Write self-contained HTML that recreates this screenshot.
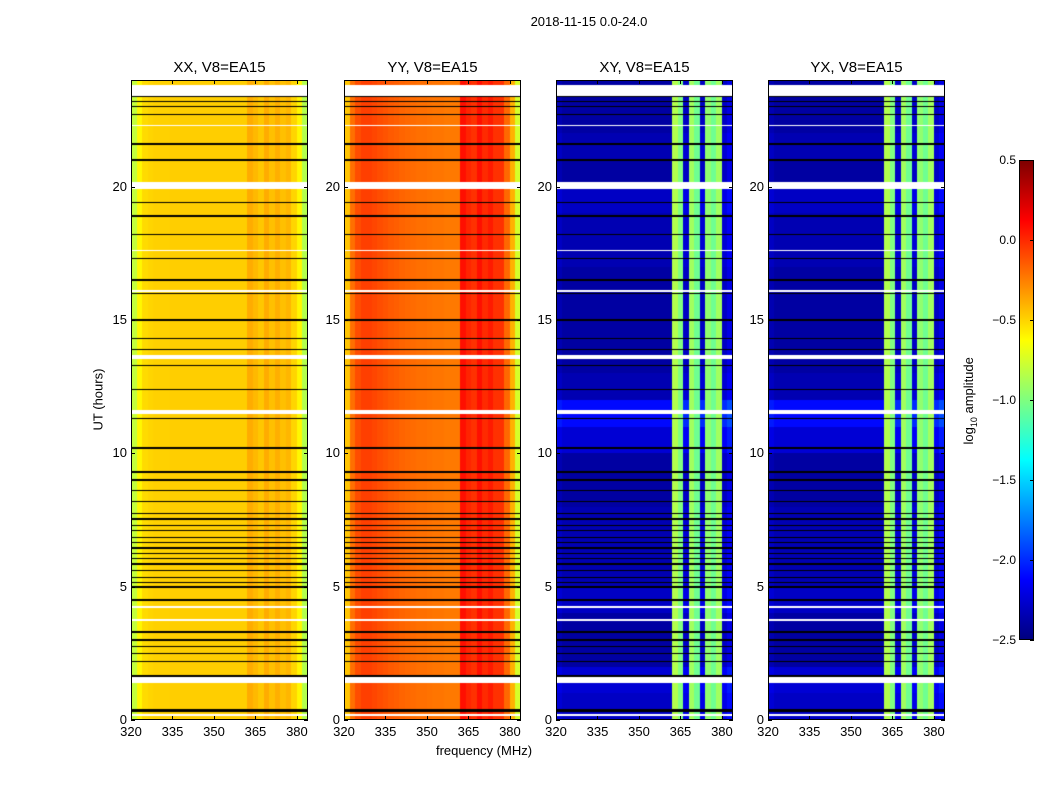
<!DOCTYPE html>
<html><head><meta charset="utf-8">
<style>
body{margin:0;background:#fff;width:1050px;height:800px;position:relative;overflow:hidden;font-family:"Liberation Sans",sans-serif;color:#000}
.t{position:absolute;white-space:nowrap}
canvas{position:absolute}
</style></head>
<body>
<div class="t" style="left:489px;top:14px;width:200px;text-align:center;font-size:13px">2018-11-15 0.0-24.0</div>
<div class="t" style="left:48px;top:392px;width:100px;text-align:center;font-size:13px;transform:rotate(-90deg)">UT (hours)</div>
<div class="t" style="left:384px;top:743px;width:200px;text-align:center;font-size:13px">frequency (MHz)</div>
<div class="t" style="left:920px;top:392px;width:100px;text-align:center;font-size:13px;transform:rotate(-90deg)">log<sub style="font-size:9px">10</sub> amplitude</div>
<div id="cbar" style="position:absolute;left:1019px;top:160px;width:15px;height:480px;border:1px solid #000;box-sizing:border-box;background:linear-gradient(to top,#00007f 0%,#0000ff 12.5%,#00ffff 37.5%,#7fff7f 50%,#ffff00 62.5%,#ff0000 87.5%,#7f0000 100%)"></div>
<div id="root"></div>
<script>
// ---- data ----
const panelTitles = ["XX, V8=EA15","YY, V8=EA15","XY, V8=EA15","YX, V8=EA15"];
const xTicks = [320,335,350,365,380];
const yTicks = [0,5,10,15,20];
const cbTicks = [0.5,0.0,-0.5,-1.0,-1.5,-2.0,-2.5];
// channel spectra (log10 amp), 2 MHz channels from 320 to 384 MHz
const specXX = [-0.8,-0.6,-0.52,-0.5,-0.49,-0.49,-0.49,-0.48,-0.48,-0.48,-0.48,-0.48,-0.48,-0.48,-0.48,-0.48,-0.48,-0.48,-0.48,-0.48,-0.48,-0.38,-0.42,-0.46,-0.38,-0.44,-0.39,-0.44,-0.41,-0.5,-0.6,-0.85];
const specYY = [-0.45,-0.2,-0.1,-0.06,-0.06,-0.08,-0.1,-0.12,-0.14,-0.15,-0.17,-0.18,-0.19,-0.2,-0.2,-0.21,-0.22,-0.22,-0.23,-0.23,-0.23,0.08,0.02,-0.02,0.08,0.0,0.05,-0.02,-0.02,-0.18,-0.4,-0.75];
const specXY = [-2.35,-2.4,-2.4,-2.4,-2.4,-2.4,-2.4,-2.4,-2.4,-2.4,-2.4,-2.4,-2.4,-2.4,-2.4,-2.4,-2.4,-2.4,-2.4,-2.4,-2.4,-0.85,-1.0,-2.3,-0.9,-1.05,-2.3,-0.95,-1.05,-0.9,-2.3,-2.2];
const specYX = [-2.35,-2.4,-2.4,-2.4,-2.4,-2.4,-2.4,-2.4,-2.4,-2.4,-2.4,-2.4,-2.4,-2.4,-2.4,-2.4,-2.4,-2.4,-2.4,-2.4,-2.4,-0.85,-1.0,-2.3,-0.9,-1.05,-2.3,-0.95,-1.05,-0.9,-2.3,-2.2];
// hourly offsets applied to cross-pol backgrounds
const crossHourOffset = [0.1,0.15,0.0,0.0,0.1,0.05,0.05,0.05,0.0,0.0,0.15,0.3,0.05,0.0,0.0,0.0,0.0,0.05,0.05,0.1,0.0,0.05,0.0,0.0];
// flagged (black) rows: hour, width in hours
const blackRows = [[0.35,0.12],[1.65,0.1],[2.2,0.05],[2.5,0.05],[2.75,0.05],[3.0,0.05],[3.3,0.05],[4.5,0.05],[5.0,0.07],[5.15,0.05],[5.35,0.05],[5.6,0.05],[5.85,0.05],[6.05,0.05],[6.25,0.05],[6.45,0.05],[6.65,0.05],[6.85,0.05],[7.1,0.05],[7.3,0.05],[7.55,0.08],[7.75,0.05],[8.2,0.05],[8.6,0.05],[9.0,0.05],[9.3,0.05],[10.2,0.05],[11.3,0.05],[12.4,0.05],[13.3,0.05],[13.9,0.05],[14.3,0.05],[15.0,0.05],[16.0,0.05],[16.5,0.05],[17.3,0.05],[18.2,0.05],[18.9,0.08],[19.4,0.05],[21.0,0.05],[21.6,0.05],[22.7,0.05],[23.0,0.05],[23.2,0.05],[23.4,0.05]];
// missing (white) rows: hour, width in hours
const whiteRows = [[0.2,0.08],[1.5,0.2],[3.75,0.05],[4.25,0.08],[11.55,0.12],[13.6,0.15],[16.1,0.08],[17.6,0.05],[20.05,0.25],[22.3,0.05],[23.6,0.4]];
// ---- layout ----
const panelX=[131,344,556,768], PW=177, PT=80, PH=640;
const fMin=320,fMax=384;
const xs=f=>(f-fMin)/(fMax-fMin)*PW;
const ys=h=>PH-h/24*PH;
const cbY=v=>160+(0.5-v)/3*480;
const specs=[specXX,specYY,specXY,specYX];
const root=document.getElementById('root');
function jet(v){let t=(v+2.5)/3;t=Math.max(0,Math.min(1,t));const c=x=>Math.round(255*Math.max(0,Math.min(1,1.5-Math.abs(x))));return [c(4*t-3),c(4*t-2),c(4*t-1)];}
function inRows(rows,h){for(const r of rows){if(Math.abs(h-r[0])<=r[1]/2)return true;}return false;}
panelTitles.forEach((title,p)=>{
  const cv=document.createElement('canvas');
  
  
  cv.width=PW;cv.height=PH;cv.style.left=panelX[p]+'px';cv.style.top=PT+'px';
  root.appendChild(cv);
  const ctx=cv.getContext('2d');const img=ctx.createImageData(PW,PH);
  const spec=specs[p];const cross=p>=2;
  for(let y=0;y<PH;y++){
    const h=24*(1-(y+0.5)/PH);
    const black=inRows(blackRows,h), white=inRows(whiteRows,h);
    const hi=Math.min(23,Math.floor(h));
    for(let x=0;x<PW;x++){
      const f=fMin+(x+0.5)/PW*(fMax-fMin);
      const ch=Math.min(spec.length-1,Math.floor((f-fMin)/2));
      let v=spec[ch];
      if(cross&&v<-2.0)v+=crossHourOffset[hi];
      let c=jet(v);
      if(black)c=[0,0,0];
      if(white)c=[255,255,255];
      const i=(y*PW+x)*4;img.data[i]=c[0];img.data[i+1]=c[1];img.data[i+2]=c[2];img.data[i+3]=255;
    }
  }
  ctx.putImageData(img,0,0);
  const fr=document.createElement('div');
  
  
  fr.style.cssText=`position:absolute;left:${panelX[p]}px;top:${PT}px;width:${PW}px;height:${PH}px;border:1px solid #000;box-sizing:border-box`;
  root.appendChild(fr);
  const tt=document.createElement('div');tt.className='t';
  
  
  tt.style.cssText=`left:${panelX[p]}px;top:59px;width:${PW}px;text-align:center;font-size:15px`;
  tt.textContent=title;root.appendChild(tt);
  xTicks.forEach(f=>{
    const x=panelX[p]+xs(f);
    for(const top of [PT,PT+PH-4]){const tk=document.createElement('div');
      
      
      tk.style.cssText=`position:absolute;left:${x}px;top:${top}px;width:1px;height:4px;background:#000`;root.appendChild(tk);}
    const l=document.createElement('div');l.className='t';
    
    
    l.style.cssText=`left:${x-20}px;top:724px;width:40px;text-align:center;font-size:13px`;l.textContent=f;root.appendChild(l);
  });
  yTicks.forEach(h=>{
    const y=PT+ys(h);
    for(const left of [panelX[p],panelX[p]+PW-4]){const tk=document.createElement('div');
      
      
      tk.style.cssText=`position:absolute;left:${left}px;top:${y}px;width:4px;height:1px;background:#000`;root.appendChild(tk);}
    const l=document.createElement('div');l.className='t';
    
    
    l.style.cssText=`left:${panelX[p]-44}px;top:${y-8}px;width:40px;text-align:right;font-size:13px`;l.textContent=h;root.appendChild(l);
  });
});
cbTicks.forEach(v=>{
  const y=cbY(v);
  const l=document.createElement('div');l.className='t';
  
  
  l.style.cssText=`left:976px;width:40px;text-align:right;top:${y-7}px;font-size:12px`;l.textContent=(v<0?'\u2212':'')+Math.abs(v).toFixed(1);root.appendChild(l);
  const tk=document.createElement('div');
  
  
  tk.style.cssText=`position:absolute;left:1030px;top:${y}px;width:4px;height:1px;background:#000`;root.appendChild(tk);
});
</script>
</body></html>
